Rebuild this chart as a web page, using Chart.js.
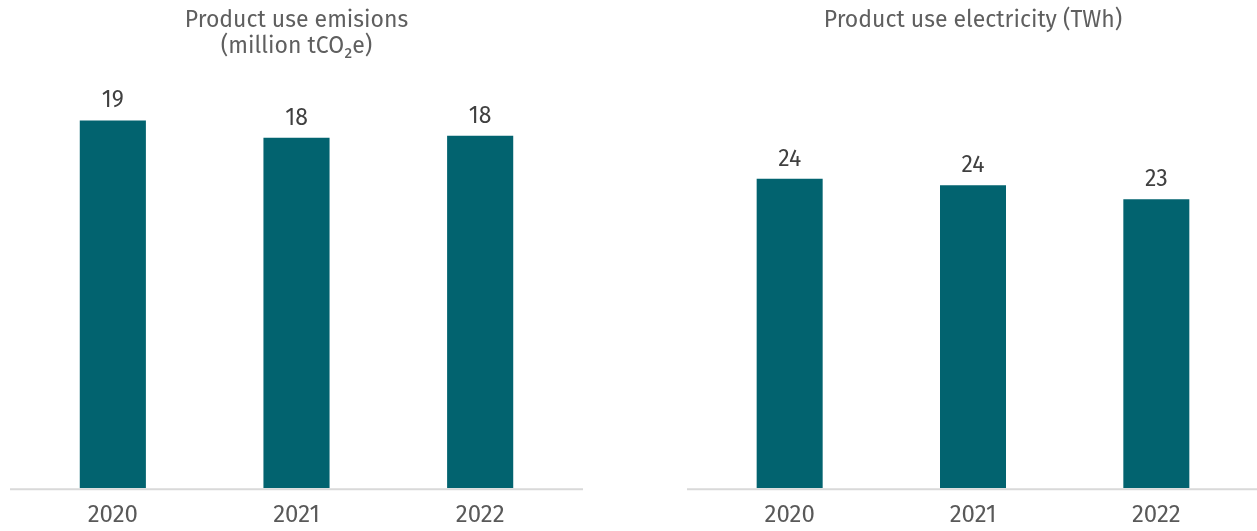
<!DOCTYPE html>
<html>
<head>
<meta charset="utf-8">
<script src="https://cdn.jsdelivr.net/npm/chart.js@4.4.0/dist/chart.umd.min.js"></script>
<style>
  html, body { margin: 0; padding: 0; background: #ffffff; }
  body { width: 1257px; height: 531px; position: relative; overflow: hidden; }
  .box { position: absolute; top: 0; height: 531px; }
  #leftBox { left: 10px; width: 573px; }
  #rightBox { left: 687px; width: 570px; }
</style>
</head>
<body>
<div class="box" id="leftBox"><canvas id="leftChart"></canvas></div>
<div class="box" id="rightBox"><canvas id="rightChart"></canvas></div>
<script>
// ---- data ----
const categories = ['2020', '2021', '2022'];
const emissionsValues = [19.1, 18.2, 18.3];      // million tCO2e
const electricityValues = [24.4, 23.9, 22.8];    // TWh
const emissionsTitle = ['Product use emisions', '(million tCO\u2082e)'];
const electricityTitle = ['Product use electricity (TWh)'];

const BAR_COLOR = '#02636F';
const FONT = '"Fira Sans", "Noto Sans", "Open Sans", sans-serif';

const baselinePlugin = {
  id: 'baseline',
  afterDatasetsDraw(chart) {
    const ctx = chart.ctx;
    const y = chart.chartArea.bottom + 1;
    ctx.save();
    ctx.strokeStyle = '#d9d9d9';
    ctx.lineWidth = 2;
    ctx.beginPath();
    ctx.moveTo(0, y);
    ctx.lineTo(chart.width, y);
    ctx.stroke();
    ctx.restore();
  }
};

const valueLabelPlugin = {
  id: 'valueLabels',
  afterDatasetsDraw(chart) {
    const ctx = chart.ctx;
    ctx.save();
    ctx.font = '23px ' + FONT;
    ctx.fillStyle = '#404040';
    ctx.textAlign = 'center';
    ctx.textBaseline = 'alphabetic';
    chart.data.datasets.forEach((ds, di) => {
      chart.getDatasetMeta(di).data.forEach((bar, i) => {
        ctx.fillText(String(Math.round(ds.data[i])), bar.x, bar.y - 13);
      });
    });
    ctx.restore();
  }
};

function makeChart(id, values, title, yMax, pad) {
  return new Chart(document.getElementById(id), {
    type: 'bar',
    data: {
      labels: categories,
      datasets: [{
        data: values,
        backgroundColor: BAR_COLOR,
        borderWidth: 0,
        categoryPercentage: 1.0,
        barPercentage: 0.36
      }]
    },
    options: {
      responsive: true,
      maintainAspectRatio: false,
      animation: false,
      layout: { padding: pad },
      plugins: {
        legend: { display: false },
        tooltip: { enabled: false },
        title: {
          display: true,
          text: title,
          color: '#5f5f5f',
          font: { family: FONT, size: 23, weight: 'normal', lineHeight: 1.13 },
          padding: { top: 8, bottom: 80 - 8 - 26 * title.length }
        }
      },
      scales: {
        x: {
          grid: { display: false, drawTicks: false },
          border: { display: false },
          ticks: {
            color: '#595959',
            font: { family: FONT, size: 24 },
            padding: 13
          }
        },
        y: {
          display: false,
          min: 0,
          max: yMax
        }
      }
    },
    plugins: [baselinePlugin, valueLabelPlugin]
  });
}

makeChart('leftChart', emissionsValues, emissionsTitle, 21.2, { left: 11, right: 11, top: 0, bottom: -12 });
makeChart('rightChart', electricityValues, electricityTitle, 32.2, { left: 11, right: 9, top: 0, bottom: -12 });
</script>
</body>
</html>
